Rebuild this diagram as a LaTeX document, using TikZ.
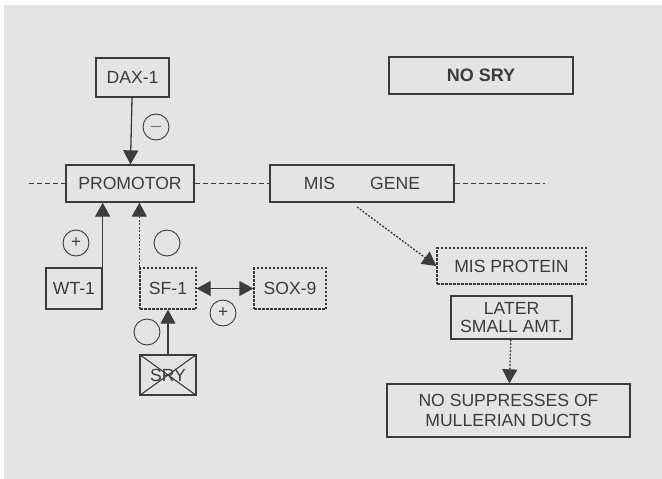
\documentclass[tikz,border=0pt]{standalone}
\usepackage{fontspec}
\setmainfont{Liberation Sans}
\usetikzlibrary{arrows.meta,positioning}
\definecolor{ink}{HTML}{3C3C3C}
\definecolor{paper}{HTML}{E4E4E4}
\tikzstyle{box}=[draw=ink, line width=1.3pt, text=ink, inner sep=0pt, align=center, font=\fontsize{17.6}{19}\selectfont]
\tikzstyle{boxDotted}=[box, dash pattern=on 2.5pt off 1.5pt]
\tikzstyle{sign}=[circle, draw=ink, line width=0.9pt, minimum size=26pt, inner sep=0pt, text=ink, font=\fontsize{17}{19}\selectfont]
\tikzstyle{edge}=[draw=ink, line width=1.3pt, -{Triangle[width=15pt,length=14pt]}]
\tikzstyle{edgeDotted}=[edge, dash pattern=on 2pt off 1.5pt]
\tikzstyle{geneLine}=[draw=ink, line width=0.9pt, dash pattern=on 5pt off 3pt]

\begin{document}
\begin{tikzpicture}[x=1pt, y=-1pt]
      \useasboundingbox (0,0) rectangle (662,479);
      \fill[paper] (4,5) rectangle (662,479);
      %%%%%%%%%%%% Gene line
      \node(prom) [box, minimum width=128pt, minimum height=37pt] at (130,183.5){PROMOTOR};
      \node(mis) [box, minimum width=184pt, minimum height=37pt] at (362,183.5){MIS\hspace{35pt}GENE};
      \coordinate (lEnd) at (29,183.5);
      \coordinate (rEnd) at (545,183.5);
      \draw[geneLine] (lEnd) to (prom.west);
      \draw[geneLine] (prom.east) to (mis.west);
      \draw[geneLine] (mis.east) to (rEnd);
      %%%%%%%%%%%% Regulators
      \node(dax) [box, minimum width=73pt, minimum height=39pt] at (132.5,77.5){DAX-1};
      \node(wt) [box, minimum width=56pt, minimum height=41pt] at (74,288.5){WT-1};
      \node(sf) [boxDotted, minimum width=56pt, minimum height=41pt] at (168,288.5){SF-1};
      \node(sox) [boxDotted, minimum width=72pt, minimum height=41pt] at (290,288.5){SOX-9};
      \node(sry) [box, minimum width=56pt, minimum height=40pt] at (168,375){SRY};
      \draw[draw=ink, line width=1.1pt] (sry.north west) to (sry.south east);
      \draw[draw=ink, line width=1.1pt] (sry.south west) to (sry.north east);
      \node(minus) [sign] at (156,127){$-$};
      \node(plusWT) [sign] at (76,243){+};
      \node(blankSF) [sign] at (167,243){};
      \node(plusSOX) [sign] at (223,313){+};
      \node(blankSRY) [sign] at (147,332){};
      \draw[edge] (dax) to (prom);
      \draw[edge] (wt.north east) to (wt.north east |- prom.south);
      \draw[edgeDotted] (sf.north west) to (sf.north west |- prom.south);
      \draw[edge] (sry) to (sf);
      \draw[edge, {Triangle[width=15pt,length=14pt]}-{Triangle[width=15pt,length=14pt]}] (sf) to (sox);
      %%%%%%%%%%%% No SRY
      \node(nosry) [box, minimum width=184pt, minimum height=37pt, font=\fontsize{18}{19}\selectfont\bfseries] at (481,75.5){NO SRY};
      \node(misp) [boxDotted, minimum width=149pt, minimum height=36pt] at (511.5,266){MIS PROTEIN};
      \node(later) [box, minimum width=121pt, minimum height=43pt, font=\fontsize{17.6}{17.5}\selectfont] at (511.5,317.5){LATER\\SMALL AMT.};
      \node(nosup) [box, minimum width=243pt, minimum height=53pt, font=\fontsize{17.6}{19.5}\selectfont] at (508.5,410.5){NO SUPPRESSES OF\\MULLERIAN DUCTS};
      \coordinate (misOut) at (357,207);
      \draw[edgeDotted] (misOut) to (misp.west);
      \draw[edgeDotted] (later) to (nosup);
\end{tikzpicture}
\end{document}
